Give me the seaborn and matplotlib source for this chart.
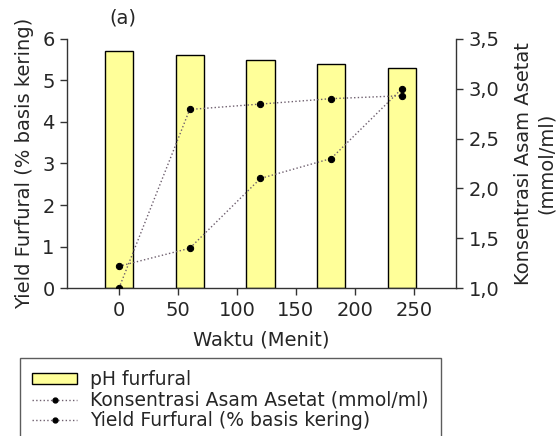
import pandas as pd
import matplotlib
matplotlib.use('Agg')
import matplotlib.pyplot as plt
import seaborn as sns
from matplotlib.patches import Patch
from matplotlib.lines import Line2D

# data
waktu = [0, 60, 120, 180, 240]
ph_furfural = [5.7, 5.6, 5.5, 5.4, 5.3]
yield_furfural = [0.0, 4.3, 4.43, 4.56, 4.63]
asam_asetat = [1.22, 1.40, 2.10, 2.30, 3.00]

df = pd.DataFrame({'waktu': waktu, 'ph': ph_furfural,
                   'yield': yield_furfural, 'asam': asam_asetat})

sns.set_style('white')
plt.rcParams['font.family'] = ['DejaVu Sans']
fs = 14

fig = plt.figure(figsize=(5.59, 4.36), dpi=100)
ax = fig.add_axes([0.12, 0.339, 0.696, 0.572])
ax2 = ax.twinx()

line_col = '#6e5f6e'

sns.barplot(data=df, x='waktu', y='ph', native_scale=True, width=0.4,
            color='#FFFF99', edgecolor='black', linewidth=1,
            saturation=1, ax=ax, zorder=1)
sns.lineplot(data=df, x='waktu', y='yield', ax=ax, color=line_col,
             linestyle=':', linewidth=1, marker='o', markersize=4.5,
             markerfacecolor='black', markeredgecolor='black', zorder=3)
sns.lineplot(data=df, x='waktu', y='asam', ax=ax2, color=line_col,
             linestyle=':', linewidth=1, marker='o', markersize=4.5,
             markerfacecolor='black', markeredgecolor='black', zorder=3)

ax.set_xlim(-44, 286)
ax.set_ylim(0, 6)
ax.set_xticks([0, 50, 100, 150, 200, 250])
ax.set_yticks(range(0, 7))
ax2.set_ylim(1.0, 3.5)
r_ticks = [1.0, 1.5, 2.0, 2.5, 3.0, 3.5]
ax2.set_yticks(r_ticks)
ax2.set_yticklabels([f'{t:.1f}'.replace('.', ',') for t in r_ticks])

for a in (ax, ax2):
    a.spines['top'].set_visible(False)
    for s in a.spines.values():
        s.set_color('#333333')
        s.set_linewidth(1)
    a.tick_params(direction='out', length=5, width=1, color='#333333',
                  labelsize=fs, pad=4)
ax.spines['right'].set_visible(False)
ax2.spines['left'].set_visible(False)
ax2.spines['bottom'].set_visible(False)
ax.tick_params(axis='x', bottom=True)
ax.tick_params(axis='y', left=True)
ax2.tick_params(axis='y', right=True)

ax.set_xlabel('Waktu (Menit)', fontsize=fs, labelpad=8)
ax.set_ylabel('Yield Furfural (% basis kering)', fontsize=fs, labelpad=6)
ax2.set_ylabel('Konsentrasi Asam Asetat\n(mmol/ml)', fontsize=fs,
               labelpad=10, linespacing=1.3)

fig.text(123 / 559, 1 - 18 / 436, '(a)', ha='center', va='center',
         fontsize=fs)

handles = [
    Patch(facecolor='#FFFF99', edgecolor='black', linewidth=1),
    Line2D([], [], color=line_col, linestyle=':', linewidth=1, marker='o',
           markersize=3.5, markerfacecolor='black', markeredgecolor='black'),
    Line2D([], [], color=line_col, linestyle=':', linewidth=1, marker='o',
           markersize=3.5, markerfacecolor='black', markeredgecolor='black'),
]
labels = ['pH furfural', 'Konsentrasi Asam Asetat (mmol/ml)',
          'Yield Furfural (% basis kering)']
leg = fig.legend(handles, labels, loc='upper left',
                 bbox_to_anchor=(20 / 559, 1 - 358 / 436),
                 frameon=True, fancybox=False, fontsize=13.5,
                 handlelength=2.4, handleheight=0.5, labelspacing=0.08,
                 borderpad=0.65, handletextpad=0.7, borderaxespad=0)
leg.get_frame().set_edgecolor('#333333')
leg.get_frame().set_linewidth(1)

fig.savefig('out.png', dpi=100)
